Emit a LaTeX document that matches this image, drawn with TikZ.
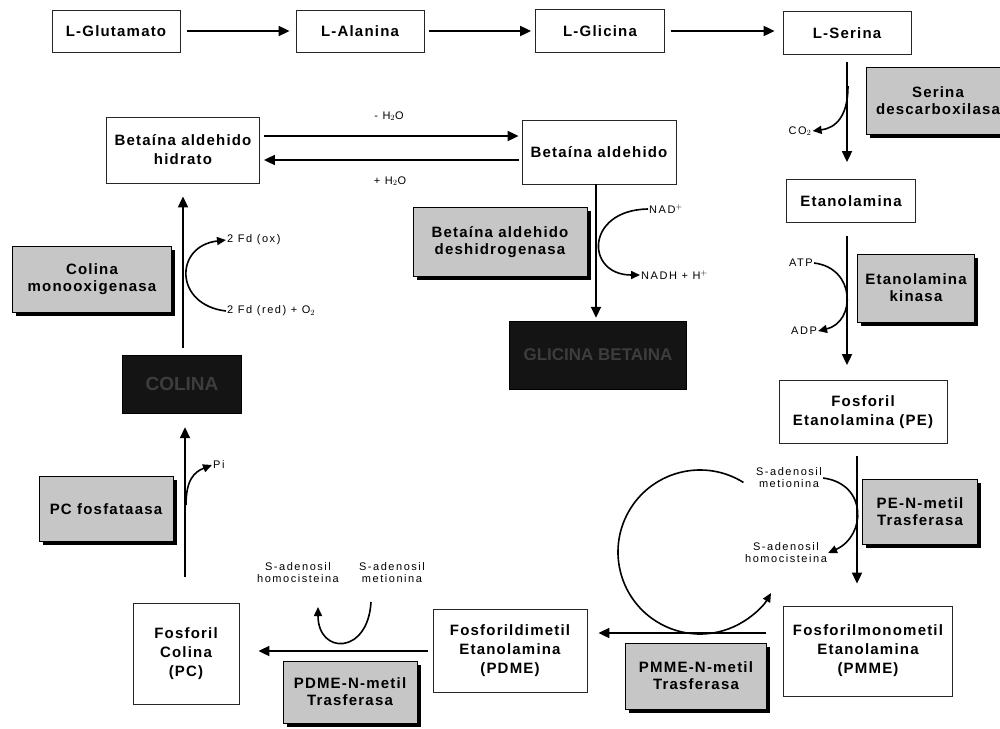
\documentclass[tikz,border=0pt]{standalone}
\usepackage{fontspec}
\setmainfont{Liberation Sans}
\newfontfamily\boxfont[LetterSpace=8]{Liberation Sans}
\newfontfamily\lblfont[LetterSpace=14]{Liberation Sans}
\usetikzlibrary{arrows.meta,shadows,calc}

\tikzset{
  mol/.style={draw=black!85, fill=white, line width=0.8pt, align=center,
    font=\boxfont\bfseries\fontsize{15}{19}\selectfont, inner sep=2pt},
  enz/.style={draw=black, fill=gray!45, line width=0.8pt, align=center,
    font=\boxfont\bfseries\fontsize{15}{17}\selectfont, inner sep=2pt,
    drop shadow={shadow xshift=3.5pt, shadow yshift=-3.5pt, fill=black, opacity=1}},
  dark/.style={draw=black, fill=black!92, text=black!76, align=center, inner sep=2pt},
  lbl/.style={font=\lblfont\fontsize{11}{12}\selectfont, align=center, inner sep=1pt},
  arr/.style={line width=1.8pt, -{Triangle[length=11pt,width=10pt]}},
  side/.style={line width=1.6pt, -{Triangle[length=9pt,width=8pt]}},
}

\begin{document}
\begin{tikzpicture}[x=1pt,y=1pt,yscale=-1]
\clip (0,0) rectangle (1000,728);
\fill[white] (0,0) rectangle (1000,728);

% top row
\node[mol, minimum width=128, minimum height=42] (glu) at (116,31) {L-Glutamato};
\node[mol, minimum width=128, minimum height=42] (ala) at (360,31) {L-Alanina};
\node[mol, minimum width=129, minimum height=43] (gli) at (600,31) {L-Glicina};
\node[mol, minimum width=128, minimum height=43] (ser) at (847,33) {L-Serina};

\draw[arr, shorten <=7pt, shorten >=6pt] (glu) -- (ala);
\draw[arr, shorten <=5pt, shorten >=4pt] (ala) -- (gli);
\draw[arr, shorten <=6pt, shorten >=8pt] (gli.east) -- (ser.west |- gli.east);

% betaina
\node[mol, minimum width=153, minimum height=66] (bah) at (183,150) {Betaína aldehido\\hidrato};
\node[mol, minimum width=154, minimum height=64] (ba) at (599,152) {Betaína aldehido};
\draw[arr, shorten <=4pt, shorten >=3pt] (bah.east |- 0,136) -- (ba.west |- 0,136);
\draw[arr, shorten <=3pt, shorten >=4pt] (ba.west |- 0,160) -- (bah.east |- 0,160);
\node[lbl] (h2o1) at (389,116) {- H$_2$O};
\node[lbl] (h2o2) at (390,181) {+ H$_2$O};

\node[enz, minimum width=174, minimum height=69] (bad) at (500,242) {Betaína aldehido\\deshidrogenasa};
\node[dark, minimum width=177, minimum height=68, font=\bfseries\fontsize{17}{19}\selectfont] (gb) at (598,355) {GLICINA BETAINA};
\draw[arr, shorten >=3pt] (ba.south -| 596,0) -- (gb.north -| 596,0);
\node[lbl, anchor=west] (nad) at (648,209) {NAD$^+$};
\node[lbl, anchor=west] (nadh) at (640,275) {NADH + H$^+$};
\draw[side] (nad.west) .. controls (585,210) and (585,275) .. (nadh.west);

% serina -> etanolamina
\node[enz, minimum width=144, minimum height=67] (sdc) at (938,101) {Serina\\descarboxilasa};
\node[mol, minimum width=129, minimum height=43] (eta) at (851,201) {Etanolamina};
\draw[arr, shorten <=7pt, shorten >=17pt] (ser.south) -- (ser.south |- eta.north);
\node[lbl] (co2) at (800,131) {CO$_2$};
\coordinate (sdc1) at (848,86);
\draw[side] (sdc1) .. controls (848,116) and (836,128) .. (co2.east);

\node[enz, minimum width=117, minimum height=68] (ek) at (916,288) {Etanolamina\\kinasa};
\node[mol, minimum width=168, minimum height=63] (pe) at (863,412) {Fosforil\\Etanolamina (PE)};
\draw[arr, shorten <=13pt, shorten >=15pt] (eta.south -| ser.south) -- (ser.south |- pe.north);
\node[lbl] (atp) at (801,263) {ATP};
\node[lbl] (adp) at (804,331) {ADP};
\draw[side] (atp.east) .. controls (856,268) and (856,322) .. (adp.east);

% PE -> PMME
\node[enz, minimum width=115, minimum height=65] (pent) at (920,512) {PE-N-metil\\Trasferasa};
\node[mol, minimum width=169, minimum height=90] (pmme) at (868,651) {Fosforilmonometil\\Etanolamina\\(PMME)};
\draw[arr, shorten <=12pt, shorten >=22pt] (pe.south -| 857,0) -- (pmme.north -| 857,0);
\node[lbl] (sam1) at (789,478) {S-adenosil\\metionina};
\node[lbl] (sah1) at (786,553) {S-adenosil\\homocisteina};
\draw[side] (sam1.east) .. controls (868,484) and (866,536) .. (sah1.east);

% PMME -> PDME
\node[enz, minimum width=141, minimum height=66] (pmnt) at (696,676) {PMME-N-metil\\Trasferasa};
\node[mol, minimum width=154, minimum height=83] (pdme) at (510,651) {Fosforildimetil\\Etanolamina\\(PDME)};
\draw[arr, shorten <=17pt, shorten >=11pt] (pmme.west |- 0,633) -- (pdme.east |- 0,633);
\coordinate (loopc) at (700,552);
\draw[side] (loopc) ++(-58:82) arc[start angle=-58, end angle=-330, radius=82];

% PDME -> PC
\node[enz, minimum width=134, minimum height=62] (pdnt) at (350,692) {PDME-N-metil\\Trasferasa};
\node[mol, minimum width=106, minimum height=101] (pc) at (186,654) {Fosforil\\Colina\\(PC)};
\draw[arr, shorten <=5pt, shorten >=19pt] (pdme.west |- 0,651) -- (pc.east |- 0,651);
\node[lbl] (sah2) at (298,573) {S-adenosil\\homocisteina};
\node[lbl] (sam2) at (392,573) {S-adenosil\\metionina};
\coordinate (m2a) at (371,602);
\coordinate (h2a) at (318,607);
\draw[side] (m2a) .. controls (368,655) and (318,655) .. (h2a);

% PC -> colina -> betaina aldehido hidrato
\node[enz, minimum width=134, minimum height=65] (pcf) at (106,509) {PC fosfataasa};
\node[dark, minimum width=119, minimum height=58, font=\bfseries\fontsize{19}{21}\selectfont] (col) at (182,384) {COLINA};
\draw[arr, shorten <=26pt, shorten >=14pt] (pc.north -| 185,0) -- (col.south -| 185,0);
\node[lbl, anchor=west] (pi) at (212,465) {Pi};
\coordinate (pcf1) at (186,505);
\draw[side] (pcf1) .. controls (186,480) and (194,472) .. (pi.west);

\node[enz, minimum width=159, minimum height=66] (cm) at (92,279) {Colina\\monooxigenasa};
\draw[arr, shorten <=7pt, shorten >=13pt] (col.north -| 183,0) -- (bah.south -| 183,0);
\node[lbl, anchor=west] (fdox) at (226,240) {2 Fd (ox)};
\node[lbl, anchor=west] (fdred) at (226,311) {2 Fd (red) + O$_2$};
\draw[side] (fdred.west) .. controls (174,305) and (174,246) .. (fdox.west);

\end{tikzpicture}
\end{document}
